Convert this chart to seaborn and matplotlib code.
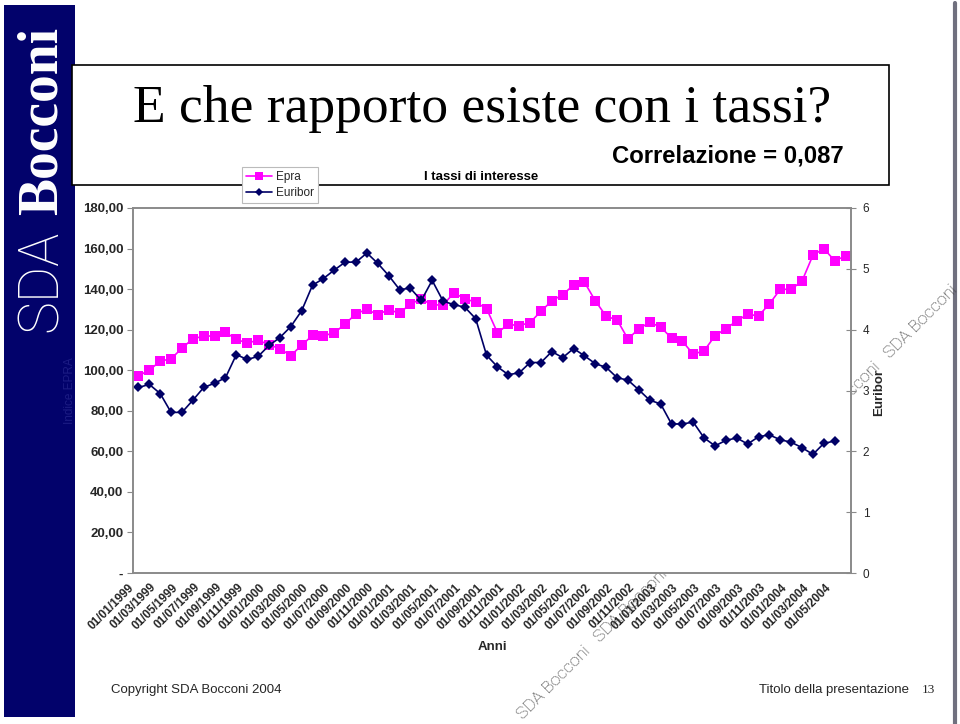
import matplotlib
matplotlib.use("Agg")
import matplotlib.pyplot as plt
import matplotlib.transforms as mtransforms
import seaborn as sns
import numpy as np
import pandas as pd
from matplotlib.patches import Rectangle
from matplotlib.lines import Line2D

# ---------------- data ----------------
epra = [97.2, 100.1, 104.4, 105.7, 110.8, 115.6, 116.7, 117.0, 118.7, 115.2,
        113.4, 114.8, 112.6, 110.6, 107.2, 112.3, 117.2, 117.0, 118.4, 122.8,
        127.9, 130.0, 127.4, 129.9, 128.1, 132.7, 135.1, 132.2, 132.2, 138.1,
        135.3, 133.5, 130.4, 118.5, 122.6, 122.0, 123.5, 129.1, 134.2, 137.3,
        142.0, 143.4, 134.2, 126.6, 124.8, 115.4, 120.5, 123.6, 121.3, 115.9,
        114.3, 107.9, 109.6, 117.0, 120.5, 124.3, 127.6, 126.8, 132.7, 139.9,
        139.9, 144.0, 156.7, 160.0, 154.0, 156.3]

euribor = [3.05, 3.10, 2.95, 2.64, 2.64, 2.84, 3.05, 3.12, 3.21, 3.59,
           3.51, 3.56, 3.74, 3.87, 4.05, 4.31, 4.73, 4.84, 4.98, 5.11,
           5.11, 5.26, 5.09, 4.89, 4.66, 4.68, 4.48, 4.81, 4.47, 4.41,
           4.37, 4.18, 3.58, 3.39, 3.26, 3.29, 3.46, 3.46, 3.64, 3.54,
           3.69, 3.57, 3.44, 3.38, 3.21, 3.17, 3.01, 2.84, 2.78, 2.45,
           2.45, 2.48, 2.22, 2.09, 2.18, 2.22, 2.12, 2.24, 2.27, 2.19,
           2.15, 2.06, 1.95, 2.13, 2.17]

tick_labels = ['01/01/1999', '01/03/1999', '01/05/1999', '01/07/1999', '01/09/1999', '01/11/1999',
               '01/01/2000', '01/03/2000', '01/05/2000', '01/07/2000', '01/09/2000', '01/11/2000',
               '01/01/2001', '01/03/2001', '01/05/2001', '01/07/2001', '01/09/2001', '01/11/2001',
               '01/01/2002', '01/03/2002', '01/05/2002', '01/07/2002', '01/09/2002', '01/11/2002',
               '01/01/2003', '01/03/2003', '01/05/2003', '01/07/2003', '01/09/2003', '01/11/2003',
               '01/01/2004', '01/03/2004', '01/05/2004']

left_ticks = [0, 20, 40, 60, 80, 100, 120, 140, 160, 180]
left_tick_labels = ['-', '20,00', '40,00', '60,00', '80,00', '100,00', '120,00', '140,00', '160,00', '180,00']
right_ticks = [0, 1, 2, 3, 4, 5, 6]

n_cat = 66

# ---------------- style ----------------
sns.set_theme(style="white")
plt.rcParams['font.family'] = ['Liberation Sans', 'DejaVu Sans']

MAGENTA = '#FF00FF'
NAVY = '#000066'
BAND = '#02026b'
GRAY = '#8a8a8a'

fig = plt.figure(figsize=(9.6, 7.24), dpi=100)
W, H = 960.0, 724.0

def fx(x):
    return x / W

def fy(y):
    return 1 - y / H

# left navy band
fig.patches.append(Rectangle((fx(4), fy(717)), fx(75) - fx(4), fy(5) - fy(717),
                             transform=fig.transFigure, facecolor=BAND, edgecolor='none', zorder=-2))
fig.text(fx(43), fy(121), 'Bocconi', rotation=90, ha='center', va='center', color='white',
         fontsize=40, fontweight='bold', family=['Liberation Serif'], zorder=-1)
fig.text(fx(41), fy(281), 'SDA', rotation=90, ha='center', va='center', color='white',
         fontsize=40, fontweight='light', family=['Roboto', 'DejaVu Sans'], zorder=-1)
fig.text(fx(70), fy(391), 'Indice EPRA', rotation=90, ha='center', va='center', color='#1c1c84',
         fontsize=8.5, zorder=-1)

# right gray edge line
fig.lines.append(Line2D([fx(955), fx(955)], [fy(3), fy(724)], transform=fig.transFigure,
                        color='#70707e', linewidth=3, zorder=-2))

# watermarks (behind plot area)
wm_kw = dict(rotation=45, rotation_mode='anchor', va='baseline', color='#3a3a3a', fontsize=12.5,
             family=['Roboto', 'DejaVu Sans'], fontweight='light', zorder=-1)
fig.text(fx(523), fy(720), 'SDA Bocconi   SDA Bocconi   SDA Bocconi', ha='left', **wm_kw)
fig.text(fx(958), fy(291), 'SDA Bocconi   SDA Bocconi', ha='right', **wm_kw)

# title box
fig.patches.append(Rectangle((fx(72), fy(185)), fx(889) - fx(72), fy(65) - fy(185),
                             transform=fig.transFigure, facecolor='white', edgecolor='black',
                             linewidth=1.2, zorder=1))
fig.text(fx(133), fy(122), 'E che rapporto esiste con i tassi?', ha='left', va='baseline',
         fontsize=38.5, family=['Liberation Serif'], color='black', zorder=2)
fig.text(fx(612), fy(163), 'Correlazione = 0,087', ha='left', va='baseline',
         fontsize=17.2, fontweight='bold', color='black', zorder=2)
fig.text(fx(481), fy(180), 'I tassi di interesse', ha='center', va='baseline',
         fontsize=9.5, fontweight='bold', color='black', zorder=2)

# ---------------- axes ----------------
ax = fig.add_axes([fx(133), fy(573), fx(851) - fx(133), fy(208) - fy(573)])
ax.set_facecolor('white')
ax2 = ax.twinx()

df_epra = pd.DataFrame({'idx': np.arange(len(epra)), 'Epra': epra})
df_eur = pd.DataFrame({'idx': np.arange(len(euribor)), 'Euribor': euribor})

sns.lineplot(data=df_epra, x='idx', y='Epra', ax=ax, color=MAGENTA, marker='s',
             markersize=6.5, markeredgewidth=0, linewidth=1.2)
sns.lineplot(data=df_eur, x='idx', y='Euribor', ax=ax2, color=NAVY, marker='D',
             markersize=5, markeredgewidth=0, linewidth=1.2)

ax.set_xlim(-0.5, n_cat - 0.5)
ax.set_ylim(0, 180)
ax2.set_ylim(0, 6)

ax.set_xticks(np.arange(0, len(tick_labels) * 2, 2))
ax.set_xticklabels(tick_labels, rotation=45, ha='right', rotation_mode='anchor',
                   fontsize=8.5, fontweight='bold')
ax.set_xticks(np.arange(-0.5, n_cat, 1), minor=True)
ax.tick_params(axis='x', which='major', length=0, pad=6)
ax.tick_params(axis='x', which='minor', length=6, direction='inout', color=GRAY, width=0.8)

ax.set_yticks(left_ticks)
ax.set_yticklabels(left_tick_labels, fontsize=9.5, fontweight='bold')
ax.tick_params(axis='y', which='major', length=4, direction='out', color=GRAY, width=0.8, pad=3,
               left=True)

ax2.set_yticks(right_ticks)
ax2.set_yticklabels([str(t) for t in right_ticks], fontsize=8.5)
ax2.tick_params(axis='y', length=7, direction='inout', color=GRAY, width=0.8, pad=5, right=True)

for a in (ax, ax2):
    a.set_xlabel('')
    a.set_ylabel('')
    a.grid(False)
    for s in a.spines.values():
        s.set_color(GRAY)
        s.set_linewidth(1.2)
        s.set_visible(True)

# shift rotated date labels left (after all tick_params so it is not reset)
shift = mtransforms.ScaledTranslation(-10 / 100, 0, fig.dpi_scale_trans)
for lab in ax.xaxis.get_majorticklabels():
    lab.set_transform(lab.get_transform() + shift)

fig.text(fx(492), fy(647), 'Anni', ha='center', va='center', fontsize=9.5, fontweight='bold')
fig.text(fx(879), fy(393), 'Euribor', rotation=90, ha='center', va='center', fontsize=9.5,
         fontweight='bold', zorder=5)

# legend
handles = [Line2D([], [], color=MAGENTA, marker='s', markersize=5.5, markeredgewidth=0, linewidth=1.2),
           Line2D([], [], color=NAVY, marker='D', markersize=4.5, markeredgewidth=0, linewidth=1.2)]
leg = fig.legend(handles, ['Epra', 'Euribor'], loc='upper left',
                 bbox_to_anchor=(fx(242), fy(167)), fontsize=8.5, frameon=True, fancybox=False,
                 edgecolor='#bbbbbb', framealpha=1, borderpad=0.35, labelspacing=0.35,
                 handlelength=2.2, handletextpad=0.3, borderaxespad=0)
leg.set_zorder(6)
leg.get_frame().set_linewidth(0.8)

# footer
fig.text(fx(111), fy(690), 'Copyright SDA Bocconi 2004', ha='left', va='center', fontsize=9.5)
fig.text(fx(759), fy(690), 'Titolo della presentazione', ha='left', va='center', fontsize=9.5)
fig.text(fx(922), fy(690), '13', ha='left', va='center', fontsize=9.5, family=['Liberation Serif'])

fig.savefig('out.png', dpi=100, facecolor='white')
